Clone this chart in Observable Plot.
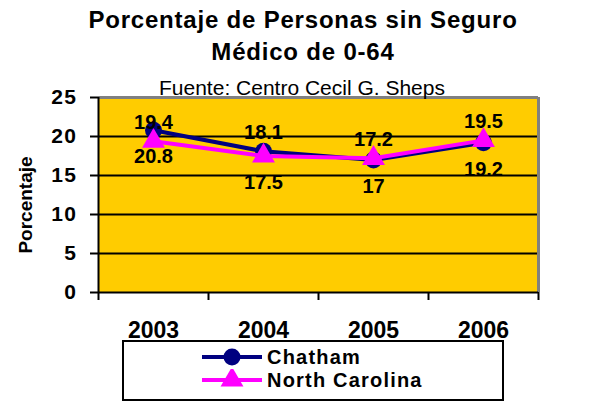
<!DOCTYPE html>
<html>
<head>
<meta charset="utf-8">
<script src="https://cdn.jsdelivr.net/npm/d3@7"></script>
<script src="https://cdn.jsdelivr.net/npm/@observablehq/plot@0.6"></script>
<style>
  html, body { margin: 0; padding: 0; background: #fff; overflow: hidden; }
  #wrap { position: relative; width: 602px; height: 402px; font-family: "Liberation Sans", Arial, sans-serif; color: #000; }
  #title { position: absolute; left: 0; top: 0; width: 606px; text-align: center; font-weight: bold; font-size: 24px; letter-spacing: 0.8px; line-height: 32px; padding-top: 4px; }
  #subtitle { position: absolute; left: 0; top: 76px; width: 604px; text-align: center; font-size: 21px; line-height: 24px; white-space: nowrap; }
  #chart { position: absolute; left: 0; top: 95px; }
  #chart g[aria-label="y-axis tick label"] text { letter-spacing: 1.5px; }
  #legend { position: absolute; left: 122px; top: 340px; width: 378px; height: 57px; border: 2px solid #000; box-sizing: content-box; }
  .row { position: absolute; left: 78px; height: 22px; display: flex; align-items: center; }
  .row span { font-weight: bold; font-size: 20px; letter-spacing: 1.2px; line-height: 22px; margin-left: 5px; white-space: nowrap; }
</style>
</head>
<body>
<div id="wrap">
  <div id="chart"></div>
  <div id="title">Porcentaje de Personas sin Seguro<br>Médico de 0-64</div>
  <div id="subtitle">Fuente: Centro Cecil G. Sheps</div>
  <div id="legend"></div>
</div>
<script>
const years = [2003, 2004, 2005, 2006];
const chatham = [20.8, 18.1, 17, 19.2];
const northCarolina = [19.4, 17.5, 17.2, 19.5];
const chathamLabelSide = ["below", "above", "below", "below"];
const northCarolinaLabelSide = ["above", "below", "above", "above"];
const yTicks = [0, 5, 10, 15, 20, 25];
const seriesNames = ["Chatham", "North Carolina"];
const seriesColors = ["#000080", "#FF00FF"];
const seriesSymbols = ["circle", "triangle"];
const yLabel = "Porcentaje";

const chathamRows = years.map((yr, i) => ({year: yr, value: chatham[i], series: seriesNames[0], side: chathamLabelSide[i]}));
const ncRows = years.map((yr, i) => ({year: yr, value: northCarolina[i], series: seriesNames[1], side: northCarolinaLabelSide[i]}));
const allRows = chathamRows.concat(ncRows);
const bounds = years.map(y => y - 0.5).concat([years[years.length - 1] + 0.5]);

const labelStyle = {x: "year", y: "value", text: d => String(d.value), fontSize: 20, fontWeight: "bold", fill: "#000"};

const chart = Plot.plot({
  width: 602,
  height: 245,
  marginTop: 2,
  marginLeft: 98,
  marginRight: 64,
  marginBottom: 48,
  style: {background: "transparent", fontFamily: "Liberation Sans, Arial, sans-serif", color: "#000", overflow: "visible"},
  x: {type: "linear", domain: [bounds[0], bounds[bounds.length - 1]]},
  y: {domain: [yTicks[0], yTicks[yTicks.length - 1]]},
  marks: [
    Plot.frame({fill: "#FFCC00", stroke: "none"}),
    Plot.ruleY(yTicks.slice(1, -1), {stroke: "#000", strokeWidth: 2}),
    Plot.ruleY([yTicks[yTicks.length - 1]], {stroke: "#808080", strokeWidth: 3}),
    Plot.ruleX([bounds[bounds.length - 1]], {stroke: "#808080", strokeWidth: 3}),
    Plot.ruleX([bounds[0]], {stroke: "#000", strokeWidth: 2}),
    Plot.ruleY([yTicks[0]], {stroke: "#000", strokeWidth: 2}),
    Plot.axisY(yTicks, {tickSize: 8, tickPadding: 13, fontSize: 21, fontWeight: "bold", strokeWidth: 2, label: null}),
    Plot.axisX(bounds, {tickSize: 8, tickFormat: () => "", strokeWidth: 2, label: null}),
    Plot.axisX(years, {tickSize: 0, tickPadding: 29, tickFormat: d => String(d), fontSize: 23, fontWeight: "bold", label: null}),
    Plot.text([yLabel], {frameAnchor: "left", text: d => d, rotate: -90, textAnchor: "middle", dx: -73, dy: 10, fontSize: 19, fontWeight: "bold", fill: "#000"}),
    Plot.line(chathamRows, {x: "year", y: "value", stroke: seriesColors[0], strokeWidth: 4}),
    Plot.dot(chathamRows, {x: "year", y: "value", r: 8.5, symbol: seriesSymbols[0], fill: seriesColors[0], stroke: "none"}),
    Plot.line(ncRows, {x: "year", y: "value", stroke: seriesColors[1], strokeWidth: 4}),
    Plot.dot(ncRows, {x: "year", y: "value", r: 8.5, symbol: seriesSymbols[1], fill: seriesColors[1], stroke: "none"}),
    Plot.text(allRows.filter(d => d.side === "above"), {...labelStyle, lineAnchor: "bottom", dy: -12}),
    Plot.text(allRows.filter(d => d.side === "below"), {...labelStyle, lineAnchor: "top", dy: 19})
  ]
});
document.getElementById("chart").appendChild(chart);

// Legend
const legend = document.getElementById("legend");
seriesNames.forEach((name, i) => {
  const row = document.createElement("div");
  row.className = "row";
  row.style.top = (4 + i * 23) + "px";
  const ns = "http://www.w3.org/2000/svg";
  const svg = document.createElementNS(ns, "svg");
  svg.setAttribute("width", 60);
  svg.setAttribute("height", 22);
  const line = document.createElementNS(ns, "line");
  line.setAttribute("x1", 0); line.setAttribute("x2", 60);
  line.setAttribute("y1", 11); line.setAttribute("y2", 11);
  line.setAttribute("stroke", seriesColors[i]); line.setAttribute("stroke-width", 4);
  svg.appendChild(line);
  const sym = document.createElementNS(ns, "path");
  const symType = seriesSymbols[i] === "circle" ? d3.symbolCircle : d3.symbolTriangle;
  sym.setAttribute("d", d3.symbol(symType, Math.PI * 8.5 * 8.5)());
  sym.setAttribute("transform", "translate(30,11)");
  sym.setAttribute("fill", seriesColors[i]);
  svg.appendChild(sym);
  row.appendChild(svg);
  const span = document.createElement("span");
  span.textContent = name;
  row.appendChild(span);
  legend.appendChild(row);
});
</script>
</body>
</html>
